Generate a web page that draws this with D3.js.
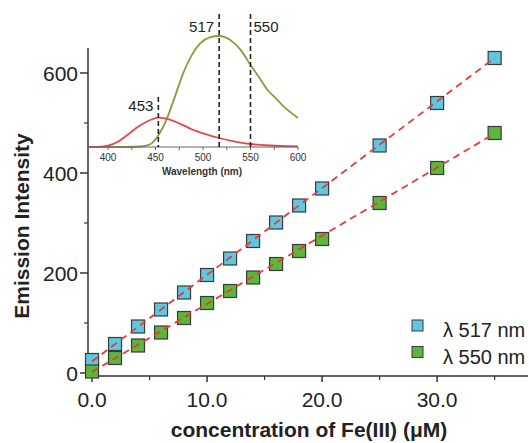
<!DOCTYPE html>
<html>
<head>
<meta charset="utf-8">
<script src="https://cdn.jsdelivr.net/npm/d3@7"></script>
<style>
  body { margin: 0; background: #fff; }
  svg { font-family: Arial, "Liberation Sans", sans-serif; }
</style>
</head>
<body>
<svg id="chart" width="529" height="443"></svg>
<script>
// titration data
var conc = [0, 2, 4, 6, 8, 10, 12, 14, 16, 18, 20, 25, 30, 35];
var em517 = [26, 58, 93, 127, 161, 196, 229, 264, 301, 335, 369, 455, 540, 630];
var em550 = [3, 30, 55, 81, 110, 140, 164, 191, 218, 244, 268, 340, 410, 480];
// linear fit end points
var fitX = [0, 35];
var fit517 = [23, 630];
var fit550 = [2, 479];
var xTicks = [0, 10, 20, 30];
var yTicks = [0, 200, 400, 600];

// inset spectra
var wlRed = [380, 390, 400, 410, 420, 430, 440, 447, 453, 460, 470, 480, 490, 500, 517, 535, 550, 570, 600];
var spRed = [0, 1, 8, 30, 70, 115, 150, 168, 176, 172, 154, 128, 102, 82, 54, 31, 18, 9, 4];
var wlGreen = [380, 420, 435, 445, 453, 462, 470, 479, 488, 497, 507, 517, 528, 540, 550, 560, 568, 577, 585, 593, 600];
var spGreen = [0, 0, 3, 18, 70, 170, 295, 440, 550, 622, 658, 666, 645, 580, 492, 410, 342, 290, 242, 205, 174];
var peaks = [453, 517, 550];
var insetTicks = [400, 450, 500, 550, 600];

var svg = d3.select('#chart');
var ink = '#333';

var x = d3.scaleLinear().domain([-0.35, 37.9]).range([88, 528]);
var y = d3.scaleLinear().domain([-6, 650]).range([376, 48]);

// axes
var xAxis = svg.append('g').attr('transform', 'translate(0,376)');
xAxis.append('line').attr('x1', 88).attr('x2', 528).attr('stroke', ink).attr('stroke-width', 1.5);
xAxis.selectAll('.maj').data(xTicks).enter().append('line')
    .attr('x1', function(d) { return x(d); }).attr('x2', function(d) { return x(d); })
    .attr('y1', 0).attr('y2', 6).attr('stroke', ink).attr('stroke-width', 1.5);
xAxis.selectAll('.min').data([5, 15, 25, 35]).enter().append('line')
    .attr('x1', function(d) { return x(d); }).attr('x2', function(d) { return x(d); })
    .attr('y1', 0).attr('y2', 4).attr('stroke', ink).attr('stroke-width', 1.2);
xAxis.selectAll('text').data(xTicks).enter().append('text')
    .attr('x', function(d) { return x(d); }).attr('y', 31)
    .attr('text-anchor', 'middle').attr('font-size', 21).attr('fill', '#222')
    .text(function(d) { return d3.format('.1f')(d); });

var yAxis = svg.append('g').attr('transform', 'translate(88,0)');
yAxis.append('line').attr('y1', 48).attr('y2', 376).attr('stroke', ink).attr('stroke-width', 1.5);
yAxis.selectAll('.maj').data(yTicks).enter().append('line')
    .attr('y1', function(d) { return y(d); }).attr('y2', function(d) { return y(d); })
    .attr('x1', 0).attr('x2', -8).attr('stroke', ink).attr('stroke-width', 1.5);
yAxis.selectAll('.min').data([100, 300, 500]).enter().append('line')
    .attr('y1', function(d) { return y(d); }).attr('y2', function(d) { return y(d); })
    .attr('x1', 0).attr('x2', -4).attr('stroke', ink).attr('stroke-width', 1.2);
yAxis.selectAll('text').data(yTicks).enter().append('text')
    .attr('x', -10).attr('y', function(d) { return y(d) + 7.5; })
    .attr('text-anchor', 'end').attr('font-size', 21).attr('fill', '#222')
    .text(function(d) { return d; });

svg.append('text').attr('transform', 'translate(29,226) rotate(-90)')
    .attr('text-anchor', 'middle').attr('font-size', 21).attr('font-weight', 'bold')
    .attr('fill', '#222').text('Emission Intensity');
svg.append('text').attr('x', 309).attr('y', 437)
    .attr('text-anchor', 'middle').attr('font-size', 21).attr('font-weight', 'bold')
    .attr('fill', '#222').text('concentration of Fe(III) (\u03bcM)');

// inset
var ix = d3.scaleLinear().domain([380, 600]).range([89, 298]);
var iy = d3.scaleLinear().domain([0, 666]).range([147, 36]);
var inset = svg.append('g');

var spec = d3.line().curve(d3.curveMonotoneX)
    .x(function(d) { return ix(d[0]); }).y(function(d) { return iy(d[1]); });

inset.append('path').datum(d3.zip(wlGreen, spGreen)).attr('d', spec)
    .attr('fill', 'none').attr('stroke', '#8c9a3e').attr('stroke-width', 1.8);
inset.append('path').datum(d3.zip(wlRed, spRed)).attr('d', spec)
    .attr('fill', 'none').attr('stroke', '#e8474a').attr('stroke-width', 1.8);

inset.append('line').attr('x1', 89).attr('x2', 298).attr('y1', 147).attr('y2', 147)
    .attr('stroke', '#666').attr('stroke-width', 1);
inset.selectAll('.itick').data(d3.range(400, 601, 25)).enter().append('line')
    .attr('x1', function(d) { return ix(d); }).attr('x2', function(d) { return ix(d); })
    .attr('y1', 147).attr('y2', 150).attr('stroke', '#666').attr('stroke-width', 1);
inset.selectAll('.ilab').data(insetTicks).enter().append('text')
    .attr('x', function(d) { return ix(d); }).attr('y', 161)
    .attr('text-anchor', 'middle').attr('font-size', 10).attr('fill', '#333')
    .text(function(d) { return d; });
inset.append('text').attr('x', 202).attr('y', 175)
    .attr('text-anchor', 'middle').attr('font-size', 10).attr('font-weight', 'bold')
    .attr('fill', '#333').text('Wavelength (nm)');

var peakTop = { 453: 97, 517: 14, 550: 14 };
inset.selectAll('.peak').data(peaks).enter().append('line')
    .attr('x1', function(d) { return ix(d); }).attr('x2', function(d) { return ix(d); })
    .attr('y1', function(d) { return peakTop[d]; }).attr('y2', 147)
    .attr('stroke', '#222').attr('stroke-width', 1.6).attr('stroke-dasharray', '5,3');
inset.selectAll('.plab').data(peaks).enter().append('text')
    .attr('x', function(d) { return d === 550 ? ix(d) + 3 : ix(d) - 5; })
    .attr('y', function(d) { return d === 453 ? 111 : 32; })
    .attr('text-anchor', function(d) { return d === 550 ? 'start' : 'end'; })
    .attr('font-size', 15).attr('fill', '#222')
    .text(function(d) { return d; });

// markers
var series = [
    { vals: em517, fit: fit517, fill: '#5fc7de' },
    { vals: em550, fit: fit550, fill: '#5cb63b' }
];
var sz = 13;
series.forEach(function(s) {
    svg.append('g').selectAll('rect').data(d3.zip(conc, s.vals)).enter().append('rect')
        .attr('x', function(d) { return x(d[0]) - sz / 2; })
        .attr('y', function(d) { return y(d[1]) - sz / 2; })
        .attr('width', sz).attr('height', sz)
        .attr('fill', s.fill).attr('stroke', '#3a3a3a').attr('stroke-width', 1.2);
});
series.forEach(function(s) {
    svg.append('path').datum(d3.zip(fitX, s.fit))
        .attr('d', d3.line().x(function(d) { return x(d[0]); }).y(function(d) { return y(d[1]); }))
        .attr('fill', 'none').attr('stroke', '#e8393b').attr('stroke-width', 1.8)
        .attr('stroke-dasharray', '7,5');
});

// legend
var legend = svg.append('g');
var labels = ['\u03bb 517 nm', '\u03bb 550 nm'];
legend.selectAll('rect').data(series).enter().append('rect')
    .attr('x', 412).attr('y', function(d, i) { return 320 + i * 26.5; })
    .attr('width', 11).attr('height', 11)
    .attr('fill', function(d) { return d.fill; }).attr('stroke', '#3a3a3a').attr('stroke-width', 1);
legend.selectAll('text').data(labels).enter().append('text')
    .attr('x', 443).attr('y', function(d, i) { return 337 + i * 26.5; })
    .attr('font-size', 20).attr('fill', '#222')
    .text(function(d) { return d; });
</script>
</body>
</html>
